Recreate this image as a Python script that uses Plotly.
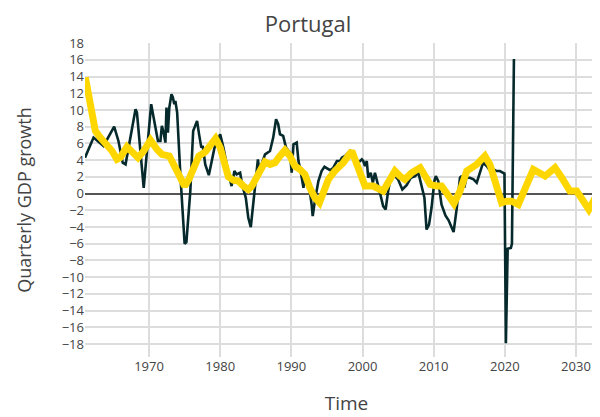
import plotly.graph_objects as go

# Quarterly GDP growth (dark line): time (years) and values (%)
gdp_time = [1961.0, 1962.2, 1963.6, 1965.1, 1965.7, 1966.3, 1966.7, 1968.1, 1968.3, 1969.25,
            1970.3, 1970.9, 1971.25, 1971.6, 1971.8, 1972.05, 1972.3, 1972.45, 1972.65, 1972.85,
            1973.15, 1973.35, 1973.55, 1973.7, 1973.95, 1974.4, 1975.0, 1975.25, 1975.8, 1976.2,
            1976.75, 1977.05, 1977.35, 1977.55, 1977.9, 1978.4, 1979.2, 1980.0, 1980.45, 1981.15,
            1981.6, 1982.0, 1982.3, 1982.8, 1983.1, 1983.6, 1983.95, 1984.3, 1984.65, 1984.9,
            1985.3, 1985.5, 1985.85, 1986.3, 1987.0, 1987.45, 1987.85, 1988.15, 1988.4, 1988.85,
            1989.25, 1989.8, 1990.05, 1990.3, 1990.75, 1991.0, 1991.3, 1991.7, 1991.9, 1992.4,
            1992.85, 1993.0, 1993.3, 1993.8, 1994.25, 1994.65, 1995.45, 1995.9, 1996.4, 1996.85,
            1997.1, 1997.55, 1998.25, 1998.7, 1999.4, 1999.9, 2000.1, 2000.35, 2000.6, 2000.8,
            2001.15, 2001.45, 2001.75, 2002.15, 2002.45, 2002.9, 2003.25, 2003.6, 2004.1, 2004.55,
            2005.0, 2005.6, 2006.2, 2006.8, 2007.4, 2007.85, 2008.3, 2008.7, 2009.0, 2009.35,
            2009.7, 2010.1, 2010.3, 2010.65, 2011.1, 2011.65, 2012.1, 2012.5, 2012.8, 2013.25,
            2013.7, 2013.95, 2014.3, 2014.6, 2015.1, 2015.6, 2016.05, 2016.5, 2016.95, 2017.45,
            2017.8, 2018.4, 2018.85, 2019.3, 2019.8, 2019.95, 2020.15, 2020.4, 2020.85, 2021.0,
            2021.28]
gdp_growth = [4.3, 6.7, 5.7, 8.0, 6.3, 3.7, 3.5, 10.1, 9.7, 0.7,
              10.7, 7.7, 6.3, 6.3, 8.1, 7.3, 6.1, 10.3, 7.3, 10.3,
              11.9, 11.5, 10.7, 11.1, 9.7, 2.3, -6.0, -5.8, 0.3, 7.5,
              8.7, 7.0, 5.5, 5.7, 3.5, 2.2, 5.5, 7.1, 5.5, 2.5,
              0.9, 2.7, 2.3, 2.5, 1.0, -0.5, -2.9, -4.0, -0.9, 1.2,
              4.1, 2.7, 3.5, 4.7, 5.1, 6.7, 8.9, 8.3, 7.1, 6.9,
              5.5, 4.9, 2.5, 5.9, 6.1, 3.9, 2.7, 0.7, 2.3, 1.5,
              -1.3, -2.7, -0.9, 1.5, 2.7, 3.2, 2.8, 3.1, 3.9, 3.9,
              4.3, 4.5, 5.1, 4.3, 3.7, 4.1, 3.9, 3.3, 3.9, 1.9,
              2.5, 1.3, 2.5, 1.3, 0.1, -1.5, -1.9, 0.3, 2.5, 2.1,
              1.7, 0.5, 1.0, 1.9, 2.1, 2.5, 0.7, -0.5, -4.3, -3.7,
              -1.7, 1.5, 2.1, 1.5, -1.3, -2.6, -3.2, -4.0, -4.6, -1.7,
              1.9, 2.1, 0.7, 1.9, 1.9, 1.7, 1.3, 2.5, 3.7, 3.3,
              2.9, 2.9, 2.7, 2.7, 2.5, 2.4, -17.9, -6.6, -6.5, -6.0,
              16.1]

# Smoothed / forecast series (yellow line)
trend_time = [1961.05, 1961.75, 1962.45, 1963.15, 1964.1, 1964.8, 1965.5, 1965.95, 1966.9, 1967.6,
              1968.45, 1969.25, 1970.2, 1971.1, 1971.8, 1972.85, 1973.45, 1974.2, 1975.0, 1975.6,
              1976.3, 1977.0, 1977.9, 1978.55, 1979.35, 1980.0, 1980.7, 1981.15, 1981.85, 1982.55,
              1983.25, 1983.95, 1984.45, 1985.15, 1985.85, 1986.3, 1987.0, 1987.7, 1988.4, 1989.1,
              1989.8, 1990.5, 1991.2, 1991.9, 1992.6, 1993.3, 1993.95, 1994.5, 1995.2, 1996.1,
              1997.3, 1998.5, 1999.4, 2000.35, 2001.5, 2002.2, 2002.9, 2003.85, 2004.55, 2005.25,
              2005.95, 2006.9, 2008.1, 2008.8, 2009.5, 2010.4, 2011.1, 2011.8, 2012.85, 2013.7,
              2014.65, 2016.05, 2017.2, 2017.9, 2018.6, 2019.55, 2020.25, 2020.95, 2021.9, 2022.85,
              2024.0, 2025.65, 2027.05, 2028.0, 2029.15, 2030.1, 2030.8, 2031.8, 2032.45, 2033.4]
trend_value = [13.9, 10.3, 7.5, 6.7, 5.9, 5.1, 4.1, 4.3, 5.6, 4.9,
               4.3, 5.1, 6.4, 5.3, 4.7, 4.5, 3.5, 2.3, 0.9, 1.7,
               3.3, 4.5, 5.0, 5.7, 6.6, 5.5, 3.3, 2.0, 1.6, 1.5,
               0.9, 0.5, 0.9, 2.1, 3.3, 3.8, 3.5, 3.7, 4.5, 5.2,
               4.5, 3.3, 2.9, 2.3, 0.7, -0.5, -1.1, 0.1, 1.7, 2.7,
               3.7, 5.1, 3.1, 0.9, 0.9, 0.7, 0.3, 1.7, 2.7, 2.1,
               1.7, 2.5, 3.1, 2.1, 1.1, 0.9, 0.9, 0.1, -1.2, 0.3,
               2.7, 3.5, 4.5, 3.5, 1.5, -1.1, -0.9, -0.9, -1.3, 0.7,
               2.9, 2.1, 3.1, 1.9, 0.3, 0.3, -0.5, -1.9, -0.9, 0.7]

x_ticks = [1970, 1980, 1990, 2000, 2010, 2020, 2030]

FONT = "Open Sans"
TXT = "#444444"

fig = go.Figure()
fig.add_trace(go.Scatter(x=gdp_time, y=gdp_growth, mode="lines",
                         line=dict(color="#062a2c", width=2.6), showlegend=False))
fig.add_trace(go.Scatter(x=trend_time, y=trend_value, mode="lines",
                         line=dict(color="#ffd700", width=7), showlegend=False))

fig.update_layout(
    width=600, height=417,
    margin=dict(l=77, r=0, t=35, b=68),
    paper_bgcolor="white", plot_bgcolor="white",
    font=dict(family=FONT, color=TXT),
    title=dict(text="Portugal", x=0.5, xref="container", xanchor="center",
               y=0.962, yref="container", yanchor="middle",
               font=dict(size=22, color=TXT, family=FONT)),
    showlegend=False,
)
fig.update_xaxes(range=[1961, 2034.5], tickvals=x_ticks, showgrid=True, automargin=False,
                 gridcolor="#dddddd", gridwidth=1.5, zeroline=False, showline=False,
                 tickfont=dict(size=13, color=TXT),
                 title=dict(text="Time", standoff=22, font=dict(size=19, color=TXT)))
fig.update_yaxes(range=[-19.55, 18.02], dtick=2, tick0=0, showgrid=True, automargin=False,
                 gridcolor="#dddddd", gridwidth=1.5, zeroline=True,
                 zerolinecolor="#555555", zerolinewidth=1.5, showline=False,
                 tickfont=dict(size=13, color=TXT),
                 title=dict(text="Quarterly GDP growth", standoff=25,
                            font=dict(size=18, color=TXT)))

fig.write_html("out.html")
